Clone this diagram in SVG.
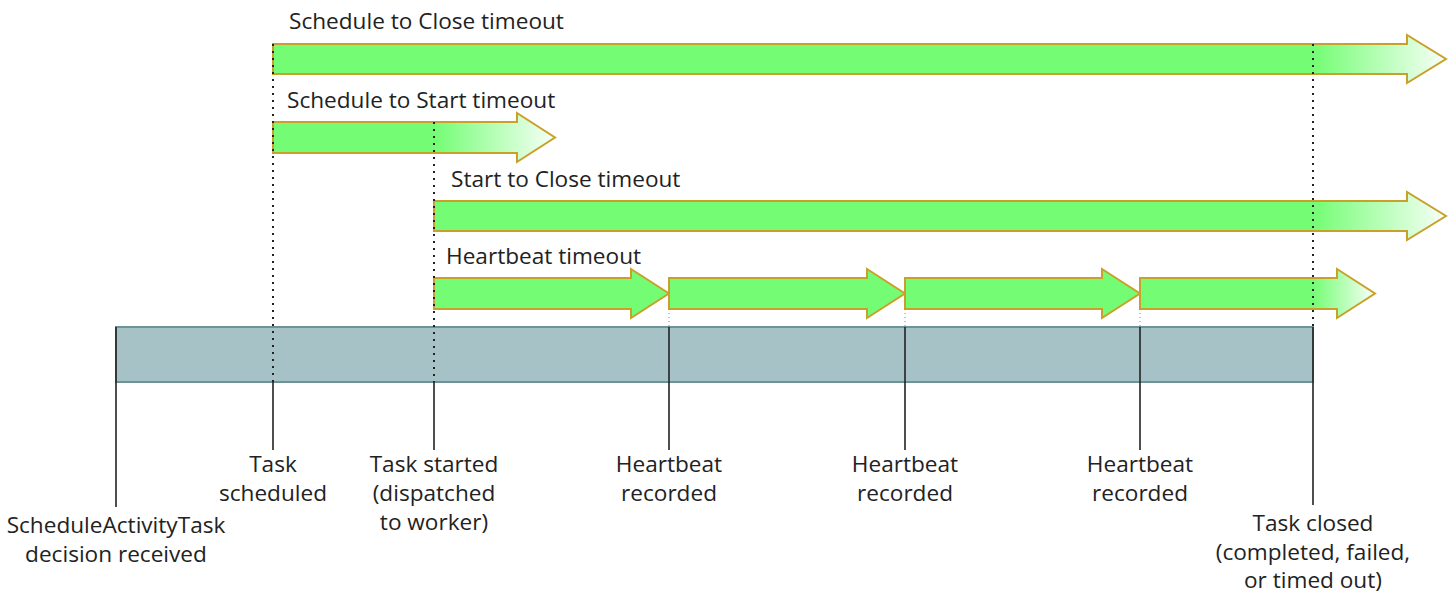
<svg xmlns="http://www.w3.org/2000/svg" width="1452" height="595" viewBox="0 0 1452 595">
  <style>
    .lbl { font-family: "Open Sans", "DejaVu Sans", sans-serif; font-size: 22.6px; fill: #222222; }
    .mid { text-anchor: middle; }
    .arrow { fill: #74fd74; stroke: #c9a02a; stroke-width: 2; stroke-linejoin: miter; }
    .solid { stroke: #222222; stroke-width: 1.6; fill: none; }
    .dots { stroke: #222222; stroke-width: 2; stroke-dasharray: 2 5; fill: none; }
    .faint { stroke: #888888; stroke-width: 1; stroke-dasharray: 1 3; fill: none; }
  </style>
  <defs>
    <linearGradient id="fadeA" gradientUnits="userSpaceOnUse" x1="1313" y1="0" x2="1440" y2="0">
      <stop offset="0" stop-color="#74fd74"/>
      <stop offset="1" stop-color="#f2fff2"/>
    </linearGradient>
    <linearGradient id="fadeB" gradientUnits="userSpaceOnUse" x1="434" y1="0" x2="550" y2="0">
      <stop offset="0" stop-color="#74fd74"/>
      <stop offset="1" stop-color="#f2fff2"/>
    </linearGradient>
    <linearGradient id="fadeC" gradientUnits="userSpaceOnUse" x1="1313" y1="0" x2="1372" y2="0">
      <stop offset="0" stop-color="#74fd74"/>
      <stop offset="1" stop-color="#f2fff2"/>
    </linearGradient>
  </defs>

  <g id="timeline">
    <rect x="116" y="327" width="1197" height="55" fill="#a7c2c6" stroke="#6d9298" stroke-width="2"/>
  </g>

  <g id="schedule-to-close">
    <path class="arrow" style="fill:url(#fadeA)" d="M273,44 H1407 V35 L1446,59 L1407,83 V74 H273 Z"/>
    <text class="lbl" x="289" y="29">Schedule to Close timeout</text>
  </g>

  <g id="schedule-to-start">
    <path class="arrow" style="fill:url(#fadeB)" d="M273,122 H517 V113 L555,137.5 L517,162 V153 H273 Z"/>
    <text class="lbl" x="287" y="108">Schedule to Start timeout</text>
  </g>

  <g id="start-to-close">
    <path class="arrow" style="fill:url(#fadeA)" d="M434,201 H1407 V192 L1446,216 L1407,240 V231 H434 Z"/>
    <text class="lbl" x="451" y="187">Start to Close timeout</text>
  </g>

  <g id="heartbeat">
    <path class="arrow" d="M434,278 H631 V269 L669,293.5 L631,318 V309 H434 Z"/>
    <path class="arrow" d="M669,278 H867 V269 L905,293.5 L867,318 V309 H669 Z"/>
    <path class="arrow" d="M905,278 H1102 V269 L1140,293.5 L1102,318 V309 H905 Z"/>
    <path class="arrow" style="fill:url(#fadeC)" d="M1140,278 H1337 V269 L1375,293.5 L1337,318 V309 H1140 Z"/>
    <text class="lbl" x="446" y="264">Heartbeat timeout</text>
  </g>

  <g id="connectors">
    <line class="dots" x1="273" y1="44" x2="273" y2="382"/>
    <line class="dots" x1="434" y1="122" x2="434" y2="382"/>
    <line class="dots" x1="1313" y1="44" x2="1313" y2="327"/>
    <line class="faint" x1="669" y1="309" x2="669" y2="327"/>
    <line class="faint" x1="905" y1="309" x2="905" y2="327"/>
    <line class="faint" x1="1140" y1="309" x2="1140" y2="327"/>
    <line class="solid" x1="116" y1="327" x2="116" y2="507" stroke-width="2"/>
    <line class="solid" x1="273" y1="382" x2="273" y2="450"/>
    <line class="solid" x1="434" y1="382" x2="434" y2="450"/>
    <line class="solid" x1="669" y1="327" x2="669" y2="450"/>
    <line class="solid" x1="905" y1="327" x2="905" y2="450"/>
    <line class="solid" x1="1140" y1="327" x2="1140" y2="450"/>
    <line class="solid" x1="1313" y1="327" x2="1313" y2="505" stroke-width="2"/>
  </g>

  <g id="event-decision">
    <text class="lbl mid" x="116" y="533">ScheduleActivityTask</text>
    <text class="lbl mid" x="116" y="562">decision received</text>
  </g>
  <g id="event-scheduled">
    <text class="lbl mid" x="273" y="472">Task</text>
    <text class="lbl mid" x="273" y="501">scheduled</text>
  </g>
  <g id="event-started">
    <text class="lbl mid" x="434" y="472">Task started</text>
    <text class="lbl mid" x="434" y="501">(dispatched</text>
    <text class="lbl mid" x="434" y="530">to worker)</text>
  </g>
  <g id="event-heartbeat-1">
    <text class="lbl mid" x="669" y="472">Heartbeat</text>
    <text class="lbl mid" x="669" y="501">recorded</text>
  </g>
  <g id="event-heartbeat-2">
    <text class="lbl mid" x="905" y="472">Heartbeat</text>
    <text class="lbl mid" x="905" y="501">recorded</text>
  </g>
  <g id="event-heartbeat-3">
    <text class="lbl mid" x="1140" y="472">Heartbeat</text>
    <text class="lbl mid" x="1140" y="501">recorded</text>
  </g>
  <g id="event-closed">
    <text class="lbl mid" x="1313" y="531">Task closed</text>
    <text class="lbl mid" x="1313" y="560">(completed, failed,</text>
    <text class="lbl mid" x="1313" y="588">or timed out)</text>
  </g>
</svg>
